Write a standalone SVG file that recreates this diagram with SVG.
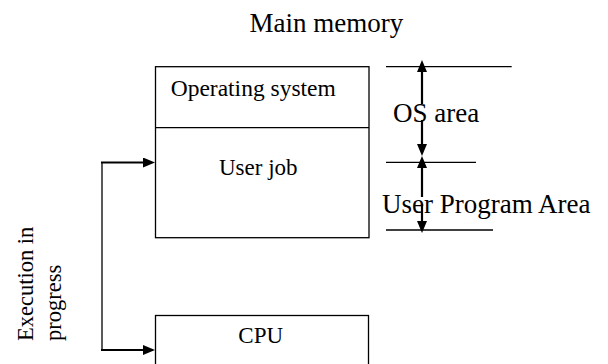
<svg xmlns="http://www.w3.org/2000/svg" width="608" height="364" viewBox="0 0 608 364">
<style>
  text { font-family: "Liberation Serif", "Times New Roman", serif; fill: #000; }
  .big { font-size: 27px; }
  .small { font-size: 23px; }
  .box { fill: #fff; stroke: #000; stroke-width: 1.3; }
  .thin { stroke: #000; stroke-width: 1.3; fill: none; }
  .arr { stroke: #000; stroke-width: 2.2; fill: none; marker-end: url(#ah); }
</style>
<defs>
  <marker id="ah" viewBox="0 -5 12 10" refX="0" refY="0" markerWidth="12" markerHeight="10" markerUnits="userSpaceOnUse" orient="auto">
    <path d="M0,-5 L12,0 L0,5 z" fill="#000"/>
  </marker>
</defs>
<rect width="608" height="364" fill="#fff"/>

<text class="big" x="249.5" y="31.7">Main memory</text>

<g id="main-memory">
  <rect class="box" x="155.5" y="66.7" width="213.5" height="171"/>
  <line class="thin" x1="155.5" y1="127.7" x2="369" y2="127.7"/>
</g>
<g id="os">
  <text class="small" x="170.7" y="96" font-size="23.5" style="font-size:23.5px">Operating system</text>
</g>
<g id="user-job">
  <text class="small" x="219" y="175">User job</text>
</g>
<g id="cpu">
  <rect class="box" x="155.5" y="315.5" width="213" height="60"/>
  <text class="small" x="238.3" y="343.3">CPU</text>
</g>

<g id="labels">
  <text class="big" x="393" y="122">OS area</text>
  <text class="big" x="382" y="213">User Program Area</text>
  <text class="small" transform="translate(33,341) rotate(-90)" style="font-size:22.5px">Execution in</text>
  <text class="small" transform="translate(60.5,341) rotate(-90)" style="font-size:22.5px">progress</text>
</g>

<g id="connectors">
  <line class="thin" x1="386" y1="66.7" x2="511.7" y2="66.7"/>
  <line class="thin" x1="386" y1="162.3" x2="476" y2="162.3"/>
  <line class="thin" x1="386" y1="230" x2="493" y2="230"/>
  <path class="arr" d="M422,104 L422,72"/>
  <path class="arr" d="M422,120 L422,144"/>
  <path class="arr" d="M422,197 L422,168"/>
  <path class="arr" d="M422,204 L422,221"/>
  <line class="thin" x1="102" y1="162" x2="102" y2="350.5"/>
  <path class="arr" d="M101,162.5 L143,162.5"/>
  <path class="arr" d="M101,350 L143,350"/>
</g>
</svg>
